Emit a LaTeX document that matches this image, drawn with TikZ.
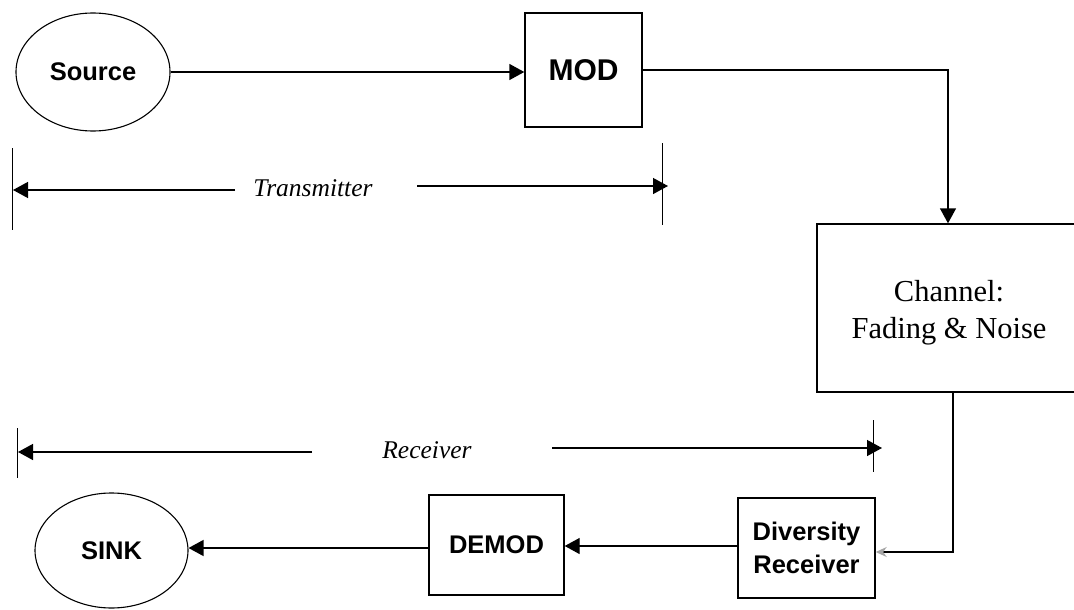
\documentclass[tikz,border=0pt]{standalone}
\usepackage{fontspec}
\setmainfont{Liberation Serif}
\setsansfont{Liberation Sans}
\usetikzlibrary{arrows.meta,shapes.geometric}
\begin{document}
\begin{tikzpicture}[x=1pt,y=-1pt,
  line width=1.4pt,
  blk/.style={draw, rectangle, inner sep=0pt, align=center,
    font=\sffamily\bfseries\fontsize{25.5}{33}\selectfont},
  ell/.style={draw, ellipse, inner sep=0pt, line width=1.1pt,
    font=\sffamily\bfseries\fontsize{25.5}{30}\selectfont},
  lbl/.style={font=\itshape\fontsize{25.5}{30}\selectfont, inner sep=0pt},
  arr/.style={-{Triangle[length=15pt,width=16pt]}},
  tickln/.style={line width=0.9pt}]
\path[use as bounding box] (0,0) rectangle (1074,610);
\clip (0,0) rectangle (1074,610);

% blocks
\node[ell, minimum width=154pt, minimum height=118pt] (src) at (93,72) {Source};
\node[blk, minimum width=117pt, minimum height=114pt,
  font=\sffamily\bfseries\fontsize{30}{34}\selectfont] (mod) at (583.5,70) {MOD};
\node[draw, rectangle, inner sep=0pt, minimum width=262pt, minimum height=168pt] (chan) at (948,308) {};
\node[align=center, inner sep=0pt, font=\fontsize{30.5}{37}\selectfont] (chantxt) at (949,313) {Channel:\\Fading \& Noise};
\node[blk, minimum width=137pt, minimum height=100pt] (div) at (806.5,548) {Diversity\\Receiver};
\node[blk, minimum width=135pt, minimum height=100pt] (demod) at (496.5,545) {DEMOD};
\node[ell, minimum width=153pt, minimum height=115pt] (sink) at (111.5,550.5) {SINK};

% main signal path
\draw[arr] (src.east) -- (src.east -| mod.west);
\draw[arr] (mod.east) -| (chan.north);
\coordinate (c1) at (953,392);
\coordinate (c2) at (953,552);
\draw[-{Stealth[length=11pt,width=10pt,color=black!35]}] (c1) -- (c2) -- (c2 -| div.east);
\draw[arr] (div.west |- 0,546) -- (demod.east |- 0,546);
\draw[arr] (demod.west |- 0,548) -- (sink.east |- 0,548);

% Transmitter span
\node[lbl] (ttx) at (313,188) {Transmitter};
\coordinate (tl1) at (12,148); \coordinate (tl2) at (12,230);
\coordinate (tr1) at (662,143); \coordinate (tr2) at (662,225);
\draw[tickln] (tl1) -- (tl2);
\draw[tickln] (tr1) -- (tr2);
\coordinate (ta) at (235,190); \coordinate (tb) at (13,190);
\coordinate (tc) at (417,186); \coordinate (td) at (668,186);
\draw[arr] (ta) -- (tb);
\draw[arr] (tc) -- (td);

% Receiver span
\node[lbl] (rtx) at (427,450) {Receiver};
\coordinate (rl1) at (17,428); \coordinate (rl2) at (17,478);
\coordinate (rr1) at (873,420); \coordinate (rr2) at (873,472);
\draw[tickln] (rl1) -- (rl2);
\draw[tickln] (rr1) -- (rr2);
\coordinate (ra) at (312,452); \coordinate (rb) at (18,452);
\coordinate (rc) at (552,448); \coordinate (rd) at (882,448);
\draw[arr] (ra) -- (rb);
\draw[arr] (rc) -- (rd);
\end{tikzpicture}
\end{document}
